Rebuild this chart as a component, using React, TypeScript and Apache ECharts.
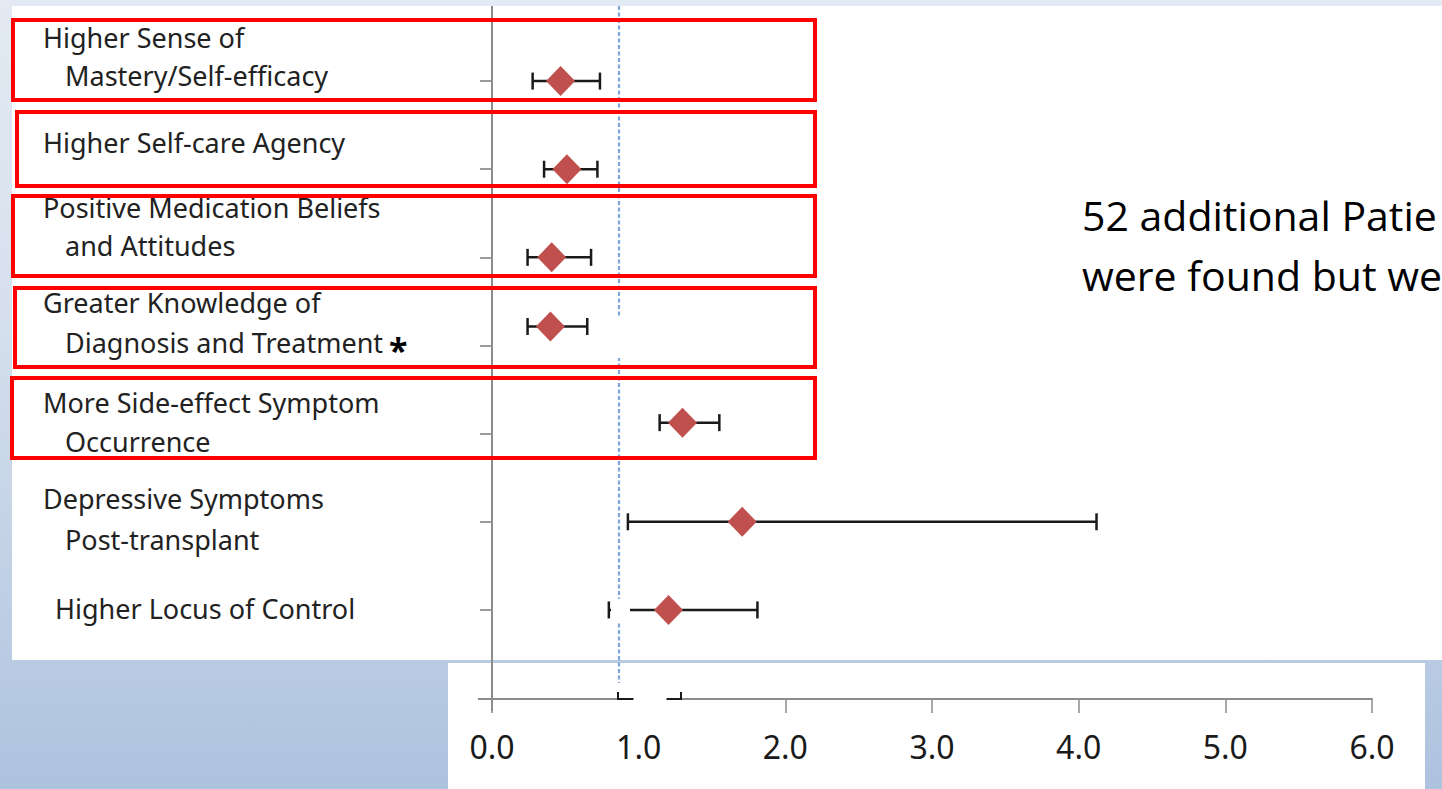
import React, { useEffect, useRef } from "react";
import * as echarts from "echarts";

// ---------- data ----------
const categories = [
  "Higher Sense of\nMastery/Self-efficacy",
  "Higher Self-care Agency",
  "Positive Medication Beliefs\nand Attitudes",
  "Greater Knowledge of\nDiagnosis and Treatment",
  "More Side-effect Symptom\nOccurrence",
  "Depressive Symptoms\nPost-transplant",
  "Higher Locus of Control",
];
const estimates = [0.54, 0.59, 0.47, 0.46, 1.5, 1.97, 1.39];
const lowerCI = [0.32, 0.41, 0.28, 0.28, 1.32, 1.07, 0.92];
const upperCI = [0.85, 0.83, 0.78, 0.75, 1.79, 4.76, 2.09];
const significant = [false, false, false, true, false, false, false];
const highlighted = [true, true, true, true, true, false, false];
const tickValues = [0, 1, 2, 3, 4, 5, 6];
const tickLabels = ["0.0", "1.0", "2.0", "3.0", "4.0", "5.0", "6.0"];
const referenceValue = 1;
const noteLines = ["52 additional Patie", "were found but we"];

// ---------- layout / style ----------
const LABEL_FONT = "Noto Sans";
const LABEL_SIZE = 27;
const labelPos = [
  [[43, 37], [65, 75]],
  [[43, 142]],
  [[43, 207], [65, 245]],
  [[43, 302], [65, 342]],
  [[43, 402], [65, 441]],
  [[43, 498.5], [65, 539]],
  [[55, 608]],
];
const rowNudge: Record<number, number> = { 3: -19, 4: -11 };
const redBoxes = [
  [13, 20, 802, 80],
  [17, 112, 798, 74],
  [13, 196, 802, 80],
  [15, 288, 800, 79],
  [12, 378, 803, 80],
  null,
  null,
];

function measure(text: string, font: string) {
  const c = document.createElement("canvas").getContext("2d");
  if (!c) return text.length * 12;
  c.font = font;
  return c.measureText(text).width;
}

export default function App() {
  const ref = useRef<HTMLDivElement>(null);

  useEffect(() => {
    document.body.style.margin = "0";
    if (!ref.current) return;
    const chart = echarts.init(ref.current, null, { renderer: "svg" });

    const option: any = {
      animation: false,
      backgroundColor: "transparent",
      grid: [
        { left: 492, top: 37, width: 762, height: 617, outerBoundsMode: "none" },
        { left: 492, top: 663, width: 880, height: 36, outerBoundsMode: "none" },
      ],
      xAxis: [
        { gridIndex: 0, type: "value", min: 0, max: 6, show: false },
        {
          gridIndex: 1,
          type: "value",
          min: 0,
          max: 6,
          interval: 1,
          position: "bottom",
          axisLine: { show: true, onZero: false, lineStyle: { color: "#8c8c8c", width: 2 } },
          axisTick: { show: true, length: 14, lineStyle: { color: "#8c8c8c", width: 1.5 } },
          splitLine: { show: false },
          axisLabel: {
            margin: 31,
            fontSize: 32,
            fontFamily: LABEL_FONT,
            color: "#1a1a1a",
            formatter: (v: number) => tickLabels[tickValues.indexOf(v)] ?? "",
          },
        },
      ],
      yAxis: [
        {
          gridIndex: 0,
          type: "category",
          data: categories,
          inverse: true,
          axisLine: { show: false },
          axisTick: { show: true, alignWithLabel: true, length: 12, lineStyle: { color: "#9a9a9a", width: 2 } },
          axisLabel: { show: false },
          splitLine: { show: false },
        },
        { gridIndex: 1, type: "value", show: false },
      ],
      series: [
        {
          type: "custom",
          xAxisIndex: 0,
          yAxisIndex: 0,
          z: 2,
          data: categories.map((_, i) => [lowerCI[i], upperCI[i], i]),
          encode: { x: [0, 1], y: 2 },
          renderItem: (params: any, api: any) => {
            const lo = api.coord([api.value(0), api.value(2)]);
            const hi = api.coord([api.value(1), api.value(2)]);
            const y = lo[1] + (rowNudge[params.dataIndex] || 0);
            const h = 8.5;
            const st = { stroke: "#1a1a1a", lineWidth: 2.5 };
            return {
              type: "group",
              children: [
                { type: "line", shape: { x1: lo[0], y1: y, x2: hi[0], y2: y }, style: st },
                { type: "line", shape: { x1: lo[0], y1: y - h, x2: lo[0], y2: y + h }, style: st },
                { type: "line", shape: { x1: hi[0], y1: y - h, x2: hi[0], y2: y + h }, style: st },
              ],
            };
          },
        },
        {
          type: "scatter",
          xAxisIndex: 0,
          yAxisIndex: 0,
          z: 3,
          symbol: "diamond",
          symbolSize: [29, 30],
          itemStyle: { color: "#c0504d", opacity: 1 },
          data: estimates.map((v, i) => ({ value: [v, i], symbolOffset: [0, rowNudge[i] || 0] })),
        },
      ],
    };
    chart.setOption(option);

    const refX = chart.convertToPixel({ xAxisIndex: 0 }, referenceValue) as number;
    const labelFont = `${LABEL_SIZE}px "${LABEL_FONT}"`;

    const graphic: any[] = [
      { type: "rect", z: -10, silent: true, shape: { x: 12, y: 6, width: 1430, height: 654 }, style: { fill: "#ffffff" } },
      { type: "rect", z: -10, silent: true, shape: { x: 448, y: 663, width: 977, height: 126 }, style: { fill: "#ffffff" } },
      { type: "line", z: 1, silent: true, shape: { x1: 492, y1: 6, x2: 492, y2: 711 }, style: { stroke: "#8c8c8c", lineWidth: 2 } },
      { type: "line", z: 1, silent: true, shape: { x1: 478, y1: 699, x2: 492, y2: 699 }, style: { stroke: "#8c8c8c", lineWidth: 2 } },
      {
        type: "line",
        z: 1,
        silent: true,
        shape: { x1: refX, y1: 6, x2: refX, y2: 683 },
        style: { stroke: "#7fa7db", lineWidth: 2.2, lineDash: [4, 2.5] },
      },
      // white patches present in the source
      { type: "rect", z: 50, silent: true, shape: { x: 598, y: 318, width: 30, height: 40 }, style: { fill: "#ffffff" } },
      { type: "rect", z: 50, silent: true, shape: { x: 611, y: 599, width: 19, height: 22 }, style: { fill: "#ffffff" } },
      { type: "rect", z: 50, silent: true, shape: { x: 634, y: 696, width: 32, height: 20 }, style: { fill: "#ffffff" } },
      {
        type: "polyline",
        z: 51,
        silent: true,
        shape: { points: [[618, 692], [618, 699], [633, 699]] },
        style: { stroke: "#1a1a1a", lineWidth: 2, fill: null },
      },
      {
        type: "polyline",
        z: 51,
        silent: true,
        shape: { points: [[667, 699], [681, 699], [681, 692]] },
        style: { stroke: "#1a1a1a", lineWidth: 2, fill: null },
      },
    ];

    categories.forEach((cat, i) => {
      const lines = cat.split("\n");
      lines.forEach((ln, j) => {
        const [x, y] = labelPos[i][j];
        graphic.push({
          type: "text",
          z: 5,
          silent: true,
          x,
          y,
          style: {
            text: ln,
            fontFamily: LABEL_FONT,
            fontSize: LABEL_SIZE,
            fill: "#222222",
            verticalAlign: "middle",
            align: "left",
          },
        });
        if (significant[i] && j === lines.length - 1) {
          const w = measure(ln, labelFont);
          graphic.push({
            type: "text",
            z: 5,
            silent: true,
            x: x + w + 6,
            y: y + 8,
            style: {
              text: "*",
              fontFamily: LABEL_FONT,
              fontWeight: "bold",
              fontSize: 34,
              fill: "#000000",
              verticalAlign: "middle",
              align: "left",
            },
          });
        }
      });
      const box = redBoxes[i];
      if (highlighted[i] && box) {
        graphic.push({
          type: "rect",
          z: 60,
          silent: true,
          shape: { x: box[0], y: box[1], width: box[2], height: box[3] },
          style: { fill: null, stroke: "#ff0000", lineWidth: 4 },
        });
      }
    });

    noteLines.forEach((t, k) => {
      graphic.push({
        type: "text",
        z: 5,
        silent: true,
        x: 1082,
        y: 215 + k * 60,
        style: {
          text: t,
          fontFamily: "Open Sans",
          fontSize: 41,
          fill: "#000000",
          verticalAlign: "middle",
          align: "left",
        },
      });
    });

    chart.setOption({ graphic });

    return () => chart.dispose();
  }, []);

  return (
    <div
      style={{
        position: "fixed",
        left: 0,
        top: 0,
        width: 1442,
        height: 789,
        overflow: "hidden",
        background: "linear-gradient(180deg, #e3eaf3 0%, #d6e0ed 40%, #bccde4 80%, #adc2de 100%)",
      }}
    >
      <div ref={ref} style={{ width: 1442, height: 789 }} />
    </div>
  );
}
